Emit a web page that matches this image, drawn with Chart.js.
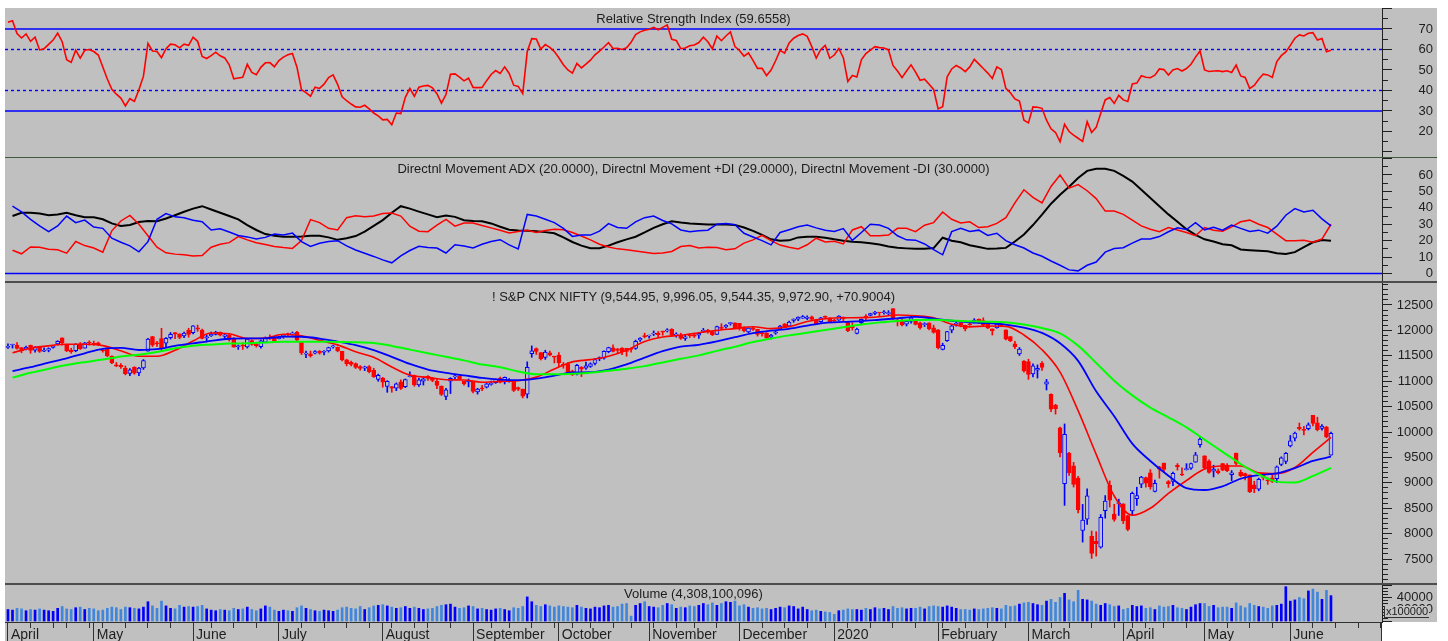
<!DOCTYPE html>
<html>
<head>
<meta charset="utf-8">
<title>S&amp;P CNX NIFTY</title>
<script src="https://cdn.jsdelivr.net/npm/chart.js@4.4.1/dist/chart.umd.min.js"></script>
<style>
  html,body{margin:0;padding:0;background:#fff;}
  #wrap{position:relative;width:1448px;height:641px;overflow:hidden;background:#fff;font-family:"Liberation Sans",Arial,sans-serif;}
  .bg{position:absolute;background:#c0c0c0;}
  canvas{position:absolute;left:5px;}
  .sep{position:absolute;left:5px;width:1432px;z-index:3;}
  .ttl{position:absolute;left:5px;width:1377px;text-align:center;font-size:13px;line-height:16px;color:#1c1c1c;white-space:nowrap;z-index:4;}
  .unit{position:absolute;font-size:11px;line-height:11px;color:#1c1c1c;z-index:4;background:#c4c4c4;border-left:1px solid #333;border-bottom:1px solid #333;padding:0 1px;}
</style>
</head>
<body>
<div id="wrap">
  <div class="bg" style="left:5px;top:8px;width:1432px;height:614px;"></div>
  <div class="bg" style="left:5px;top:622px;width:1377px;height:19px;"></div>
  <canvas id="cRsi" width="1428" height="149" style="top:8px;"></canvas>
  <canvas id="cDmi" width="1428" height="124" style="top:158px;"></canvas>
  <canvas id="cPrice" width="1428" height="301" style="top:283px;"></canvas>
  <canvas id="cVol" width="1428" height="56" style="top:585px;"></canvas>
  <div class="sep" style="top:157px;height:1px;background:#3f5a3f;"></div>
  <div class="sep" style="top:281px;height:2px;background:#4d4d4d;"></div>
  <div class="sep" style="top:583px;height:2px;background:#4d4d4d;"></div>
  <div style="position:absolute;left:1381px;top:622px;width:1px;height:19px;background:#303030;z-index:3;"></div>
  <div class="ttl" style="top:11px;">Relative Strength Index (59.6558)</div>
  <div class="ttl" style="top:161px;">Directnl Movement ADX (20.0000), Directnl Movement +DI (29.0000), Directnl Movement -DI (30.0000)</div>
  <div class="ttl" style="top:289px;">! S&amp;P CNX NIFTY (9,544.95, 9,996.05, 9,544.35, 9,972.90, +70.9004)</div>
  <div class="ttl" style="top:586px;">Volume (4,308,100,096)</div>
  <div class="unit" style="left:1384px;top:606px;">x100000</div>
</div>
<script>
// ---------- calendar of trading sessions (axis categories) ----------
const sessionCalendar = [
  ['2019-04', [1,2,3,4,5,8,9,10,11,12,15,16,18,22,23,24,25,26,30]],
  ['2019-05', [2,3,6,7,8,9,10,13,14,15,16,17,20,21,22,23,24,27,28,29,30,31]],
  ['2019-06', [3,4,6,7,10,11,12,13,14,17,18,19,20,21,24,25,26,27,28]],
  ['2019-07', [1,2,3,4,5,8,9,10,11,12,15,16,17,18,19,22,23,24,25,26,29,30,31]],
  ['2019-08', [1,2,5,6,7,8,9,13,14,16,19,20,21,22,23,26,27,28,29,30]],
  ['2019-09', [3,4,5,6,9,11,12,13,16,17,18,19,20,23,24,25,26,27,30]],
  ['2019-10', [1,3,4,7,9,10,11,14,15,16,17,18,22,23,24,25,27,29,30,31]],
  ['2019-11', [1,4,5,6,7,8,11,13,14,15,18,19,20,21,22,25,26,27,28,29]],
  ['2019-12', [2,3,4,5,6,9,10,11,12,13,16,17,18,19,20,23,24,26,27,30,31]],
  ['2020-01', [1,2,3,6,7,8,9,10,13,14,15,16,17,20,21,22,23,24,27,28,29,30,31]],
  ['2020-02', [1,3,4,5,6,7,10,11,12,13,14,17,18,19,20,24,25,26,27,28]],
  ['2020-03', [2,3,4,5,6,9,11,12,13,16,17,18,19,20,23,24,25,26,27,30,31]],
  ['2020-04', [1,3,7,8,9,13,15,16,17,20,21,22,23,24,27,28,29,30]],
  ['2020-05', [4,5,6,7,8,11,12,13,14,15,18,19,20,21,22,26,27,28,29]],
  ['2020-06', [1,2,3,4,5,8,9,10,11,12,15,16,17,18,19,22,23,24,25,26,29,30]]
];
const monthLabels = ['April','May','June','July','August','September','October','November','December','2020','February','March','April','May','June'];

// ---------- RSI (one value per session) ----------
const rsi14 = [
73.3,74,67.8,65.6,67.6,64,66,59.8,60.4,62.5,
64.6,68,63.8,55,53.7,59.7,55.8,59.6,60,59,
57.3,51.5,45.6,40.6,38.2,36.3,32.5,36,34.7,40.4,
47,63,59.3,59,56,60.4,62.6,62.3,60.8,62.6,
62,66,64,56.6,55.6,57,58.7,56.9,55.9,52.5,
45.7,46.1,46.4,52.8,48.8,47.7,51.3,53.5,53.6,51.6,
54.6,56.3,57.4,58,51.4,40.4,39,37.2,41.6,41,
43.1,46.3,47.6,43,36.9,35,33.4,32,31.8,32.8,
31,29,27.6,25.7,25.9,23.3,29,28.7,36.7,41,
37.2,41.6,42.2,42.5,41.3,38.4,33.8,38,47.9,48.1,
46.5,44.7,46,41.5,41.4,41.5,44.8,47.8,49.7,48.3,
51.5,48.3,42.6,42,38.5,59,65.3,65.1,60.2,62.4,
61,59,56,52.6,50,48.5,53.2,51,52.9,54.8,
57.4,59.2,61.2,63.3,60.5,60.6,60,60.8,63.5,67.3,
68.6,69.4,69.9,70.8,69.6,70.8,72,65,64.4,60.4,
60.7,61.8,62.2,63.4,66,63.8,60.3,66.6,64.3,66.6,
68.6,61.4,59.5,56.8,58.3,54.7,50.8,50.8,47.3,50,
54.5,59.6,58.2,63.2,65.5,66.8,67.6,66.4,61.5,55.8,
60,62,55.7,57.3,60.5,56,44.4,47.3,46.6,55,
58,59.7,61.4,60.9,60.7,59.8,52.2,49.5,46.3,49.5,
52.5,49,45,45.5,43,40.5,31,32.1,46.7,50.5,
52.2,51,49.2,51.5,55.2,53,50.7,48.5,45.9,51.5,
50.2,41,38.9,35.9,34.8,25.5,24.2,32,31.8,31.3,
25.5,21.3,19.5,15,23.5,20,18.2,16.7,15.2,24.8,
19.5,22,28.8,35.4,36.6,33.7,37.6,35.4,34.6,43.2,
43.6,47.2,46.5,46.2,47.5,50.5,50.2,47.5,50,50.7,
49.5,50.7,52.8,56.3,59.3,50,49.3,49.5,49.6,49.2,
49.6,48.8,52.4,47.1,46.4,41,42.5,45.5,48,47.6,
46.4,54.1,57,58.8,62,65.5,67.1,66.6,67.9,68.2,
64.6,65.4,58.9,59.66];
const rsiSolidLevels = [70, 30];
const rsiDashedLevels = [60, 40];

// ---------- Directional movement (read every 2nd session, from session 1) ----------
const diFirstSession = 1, diStep = 2;
const adx = [
35,37,37,36.5,35.5,36,37,35.5,34.3,34.2,
33,30.5,29,29.5,31.4,32,31.8,33.5,35.5,37.6,
39.5,41,39,37,35,33,29.5,26.5,24,23,
22.4,22.4,22.5,23,23,22,20.5,21.5,22.8,25.5,
29,32.5,37,41,39.5,37.7,36,34.3,35.3,34.5,
32.4,32,31.8,30.5,28.5,26.7,26.2,26,25.8,25.2,
24.5,22,19.2,17,15.4,15.4,17,19,20.8,22.4,
25,27.8,30,31.8,31,30.4,30.2,29.8,29.8,29.8,
29.6,28,26,23.5,20.8,20,20.2,22,22.4,22.4,
21.8,20.8,20,19.3,19,18.4,17.6,16.5,15.7,15.3,
15,15,15.5,21.8,20,19,17.2,16.2,15,15.2,
15.6,19.5,23.8,29.5,35.8,42.5,48,52.8,58.2,62.5,
63.8,63.8,62.5,59.5,56,51,46,41,36,31.5,
27,23.5,20.8,19.5,17.8,17.2,14.6,14.2,13.8,13.5,
12.3,11.9,13,16,19,20.4,20];
const plusDI = [
41,37.5,33,29,25.5,29,35,31,32.5,28.3,
27.5,21.5,19,16.8,13.2,19.4,33,36.5,34.5,34,
32.4,31.5,26.5,27.3,25.3,23.2,22.3,21,22,24,
23.5,24.6,19.4,16.5,18.4,19.5,20,16.8,14.3,12.3,
10.4,8.3,6.5,10.7,14,16.6,15.8,15.5,12.5,17.5,
16.8,15.5,17.8,19.5,20.6,17.4,15,36,35,33,
31,27.5,22.6,23.4,23.4,25.8,30.4,28,27.5,31.4,
34,35,32.3,30.2,26.5,25.5,26,26.4,30,30.4,
29.7,24.5,22.2,20,17.4,25,26.7,28.5,29.5,27.8,
26.3,25.6,27.4,20.2,25,30,29.5,27.5,23,20.5,
20.3,18,14.5,11.4,25.5,27.5,25.6,26.4,23.2,24.5,
20,17.5,15.5,12.5,10.5,7.6,5,2.2,1.6,5,
7,13,15.2,15.7,18.5,21,21,22.5,25.4,27.8,
26.8,31,26.6,28.2,26.4,29.5,27.5,25.6,26.4,24.6,
28.8,35.5,39.5,37.5,38.5,33.3,29];
const minusDI = [
14.2,12,16.2,16,14.8,14.4,12.4,19.5,17,15.5,
13,26,32,35.4,30,23,16,12.6,11.8,11.4,
10.6,11,16,17.8,18.8,22.5,20.5,18.7,17.6,16.5,
15.8,15.3,20,32.8,31,27.5,26.5,34,35.2,34.6,
35,36.6,36.8,35,28.8,25.8,25.5,29.5,33,28.8,
30.8,30.8,29.2,27.8,26.3,24.7,25.6,26.4,25,26.2,
27,26.6,25,22.8,20.5,17.8,16.2,15,14.4,13.7,
13,12.2,12.5,13.4,16.4,17,15.5,16,15.8,14.5,
15,18.5,20.5,23.2,20,17.3,16,15,17.5,21.5,
19.2,19.6,18,26.5,28.5,23,23,23.4,27.5,27.5,
25.5,29.4,31,37.5,33,30.8,31.5,28,28.5,30.5,
34,43,51,46.4,43,53,60,52,54.2,50.4,
45.6,38,38,36,32.5,29,27,25.4,28,26.5,
25,23,28,26.4,25.8,28.4,31.5,32.5,30,28,
24,20,20,20.2,19,21,30];

// ---------- moving averages (read every 4th session, from session 1) ----------
const maFirstSession = 1, maStep = 4;
const maFast = [
11560,11650,11696,11726,11726,11700,11600,11490,11490,11610,
11790,11950,11935,11840,11850,11923,11893,11805,11715,11580,
11470,11280,11120,11075,11030,11024,10980,10995,11010,11080,
11240,11380,11425,11490,11610,11780,11870,11905,11955,12000,
12035,12072,12035,12075,12175,12228,12248,12251,12270,12303,
12288,12250,12120,12070,12087,12080,11910,11620,11180,10420,
9560,8740,8360,8498,8790,9045,9270,9330,9330,9195,
9180,9300,9600,9896];
const maMid = [
11200,11275,11365,11450,11550,11638,11655,11614,11630,11695,
11745,11795,11836,11844,11844,11876,11875,11840,11780,11710,
11610,11480,11340,11230,11165,11115,11065,11033,11020,11050,
11110,11172,11178,11230,11330,11465,11590,11682,11716,11782,
11866,11945,11995,12030,12095,12150,12168,12183,12210,12238,
12265,12232,12190,12160,12142,12115,12055,11950,11746,11400,
10800,10310,9770,9430,9140,8895,8858,8930,9080,9150,
9187,9290,9430,9514];
const maSlow = [
11070,11165,11245,11318,11375,11425,11488,11520,11575,11648,
11700,11722,11742,11746,11764,11778,11778,11778,11774,11768,
11750,11695,11622,11550,11480,11410,11328,11275,11190,11135,
11135,11145,11165,11207,11247,11297,11370,11440,11508,11597,
11680,11770,11842,11902,11955,12006,12062,12115,12158,12185,
12206,12211,12195,12180,12172,12158,12115,12047,11943,11700,
11360,11010,10720,10480,10290,10090,9850,9610,9370,9165,
9023,9005,9135,9295];

// ---------- daily OHLC ----------
const open = [
11665,11712,11713,11660,11638,11705,11613,11686,11590,11613,
11667,11736,11856,11727,11612,11601,11735,11651,11770,11736,
11757,11605,11652,11495,11323,11314,11258,11152,11271,11164,
11262,11592,11877,11752,11840,11748,11855,11958,11932,11892,
11999,11953,12052,12007,11850,11889,11920,11968,11882,11911,
11838,11678,11707,11675,11802,11726,11681,11768,11861,11860,
11839,11890,11932,11928,11964,11770,11531,11537,11552,11592,
11570,11596,11675,11672,11586,11419,11371,11345,11289,11258,
11290,11216,11035,11060,10895,10894,10864,10990,10894,11087,
11112,10925,10999,11095,11063,10996,10906,10699,11001,11083,
11101,10996,10987,11002,10790,10860,10884,10936,10971,11058,
10986,10995,10994,10872,10845,10747,11542,11640,11565,11469,
11556,11491,11516,11322,11343,11197,11139,11280,11258,11289,
11350,11439,11452,11580,11657,11637,11650,11647,11628,11643,
11813,11890,11887,11928,11946,11974,11989,12023,11907,11913,
11843,11906,11916,11908,11980,12005,11969,11921,12067,12068,
12132,12147,12137,12067,11970,12053,12023,11939,11950,11868,
11945,12027,12131,12082,12197,12223,12239,12235,12269,12211,
12173,12274,12247,12202,12199,12261,12171,12079,11940,12153,
12272,12296,12333,12350,12348,12328,12430,12195,12195,12123,
12175,12198,12148,12114,12147,12052,12010,11627,11798,12006,
12120,12152,12102,12109,12151,12219,12191,12131,12029,12050,
12119,12012,11877,11738,11536,11398,11388,11143,11219,11350,
10942,10743,10531,10081,8982,9587,9332,9091,8063,8286,
7946,7849,7735,8451,8949,8385,8584,8585,8356,8446,
8688,8973,9104,9196,8832,9316,9390,9025,9026,9343,
9163,9259,9287,9408,9753,9533,9429,9227,9234,9377,
9348,9162,9584,9208,9182,9158,8961,8876,9170,9046,
9100,9083,9364,9422,9726,9880,10094,10055,10064,10326,
10182,10072,10094,9545];
const high = [
11738,11727,11761,11661,11689,11712,11683,11688,11657,11656,
11704,11797,11856,11727,11648,11740,11760,11763,11795,11789,
11770,11632,11657,11500,11367,11345,11300,11249,11286,11272,
11427,11845,11884,11784,12041,11860,11958,11958,11932,11968,
12042,12095,12104,12024,11907,11968,11983,11968,11931,11917,
11860,11711,11755,11843,11814,11754,11814,11871,11911,11884,
11884,11918,11945,11969,11982,11776,11593,11593,11605,11604,
11604,11670,11706,11673,11590,11433,11396,11360,11307,11296,
11308,11255,11139,11076,11010,10895,10965,11026,11044,11182,
11121,11060,11068,11113,11072,11035,10908,10862,11070,11141,
11129,10996,11043,11002,10860,10920,10957,11002,11043,11081,
11084,11052,10996,10885,10845,11382,11695,11655,11566,11610,
11593,11491,11562,11370,11366,11217,11330,11286,11374,11362,
11448,11478,11598,11670,11714,11645,11664,11647,11630,11809,
11860,11946,11907,11989,11978,11986,12034,12034,11954,11946,
11918,11936,11946,11957,12039,12019,11981,12084,12132,12114,
12158,12147,12137,12068,12054,12082,12023,11981,11953,11923,
11990,12099,12134,12182,12228,12268,12294,12287,12283,12221,
12258,12286,12247,12222,12290,12265,12180,12152,12044,12224,
12311,12338,12374,12350,12390,12389,12430,12226,12225,12189,
12272,12216,12163,12150,12150,12103,12018,11749,11981,12099,
12160,12154,12104,12173,12231,12226,12247,12160,12031,12134,
12152,12012,11884,11783,11663,11406,11433,11342,11321,11387,
11036,10751,10545,10099,10159,9602,9403,9127,8575,8883,
8051,8037,8376,8749,9038,8577,8678,8588,8357,8819,
8913,9128,9112,9261,9053,9324,9390,9044,9209,9378,
9296,9377,9390,9599,9889,9533,9450,9346,9277,9383,
9379,9241,9584,9252,9191,9158,9031,9094,9178,9095,
9161,9332,9511,9598,9932,9996,10177,10112,10178,10328,
10291,10148,10112,9996];
const low = [
11644,11652,11629,11559,11618,11549,11570,11567,11579,11578,
11648,11713,11710,11583,11550,11579,11625,11650,11710,11705,
11699,11571,11484,11347,11285,11251,11125,11109,11136,11109,
11231,11592,11682,11685,11592,11658,11829,11836,11835,11858,
11866,11932,11982,11832,11773,11880,11910,11890,11832,11789,
11670,11626,11625,11651,11707,11670,11651,11757,11821,11775,
11830,11846,11887,11905,11797,11523,11461,11475,11539,11532,
11516,11573,11651,11578,11399,11302,11301,11250,11216,11208,
11164,11075,10999,10882,10782,10782,10813,10836,10873,11084,
10901,10898,10924,11016,10990,10853,10718,10637,10756,11052,
11035,10922,10888,10771,10746,10816,10866,10922,10957,10964,
10945,10981,10796,10815,10671,10670,11471,11526,11417,11430,
11499,11359,11285,11255,11158,11113,11123,11090,11233,11272,
11319,11403,11436,11559,11576,11546,11520,11491,11571,11627,
11784,11852,11849,11899,11863,11904,11968,11888,11867,11822,
11802,11860,11861,11843,11960,11944,11898,11920,12009,12042,
12104,12034,12004,11969,11953,11998,11888,11888,11844,11833,
11923,12023,12052,12070,12160,12191,12236,12213,12202,12118,
12157,12228,12151,12165,12195,12191,11975,12005,11929,12126,
12213,12285,12308,12279,12317,12300,12216,12087,12089,12087,
12141,12107,12024,12075,12010,11946,11633,11615,11783,11953,
12084,12070,11990,12099,12144,12139,12091,12037,11908,12042,
12071,11813,11779,11639,11507,11176,11036,11083,11062,11212,
10827,10400,10352,9508,8556,9145,8916,8407,7833,8179,
7512,7557,7714,8304,8522,8244,8358,8198,8056,8360,
8555,8905,8913,8874,8821,9091,9219,8910,8946,9250,
9141,9250,9261,9404,9699,9266,9190,9116,9175,9238,
9219,9043,9351,9119,9056,8807,8806,8843,9056,8969,
9006,9004,9336,9376,9706,9824,10036,9944,10040,10121,
10022,10036,9885,9544];
const close = [
11669,11713,11644,11598,11666,11605,11672,11584,11597,11643,
11690,11787,11753,11594,11576,11726,11641,11755,11748,11725,
11712,11598,11498,11359,11302,11279,11148,11222,11157,11257,
11407,11828,11709,11738,11657,11844,11925,11928,11861,11946,
11923,12089,12022,11844,11871,11923,11966,11906,11914,11823,
11672,11691,11691,11831,11724,11699,11797,11847,11842,11789,
11865,11910,11916,11946,11811,11558,11555,11498,11582,11552,
11588,11662,11687,11597,11419,11346,11331,11271,11253,11284,
11189,11085,11118,10980,10997,10863,10948,10856,11033,11110,
10925,11029,11048,11053,11017,10918,10741,10829,11057,11106,
11046,10948,11023,10798,10845,10848,10947,10946,11036,10982,
11076,11004,10818,10841,10705,11274,11600,11588,11441,11571,
11512,11474,11359,11314,11175,11126,11313,11235,11305,11341,
11428,11464,11586,11662,11588,11604,11582,11584,11627,11786,
11844,11877,11890,11941,11917,11966,12012,11908,11913,11840,
11872,11895,11884,11940,11999,11968,11914,12073,12037,12100,
12151,12056,12049,11995,12044,12019,11922,11937,11857,11910,
11972,12087,12053,12165,12222,12260,12272,12263,12215,12127,
12246,12255,12168,12182,12282,12226,11993,12053,12025,12216,
12257,12330,12362,12343,12355,12352,12224,12170,12107,12180,
12248,12119,12055,12129,12036,11962,11662,11708,11979,12090,
12137,12098,12031,12108,12201,12174,12113,12046,11993,12125,
12080,11829,11798,11678,11633,11202,11132,11303,11251,11270,
10989,10451,10458,9590,9955,9197,8967,8469,8264,8745,
7610,7801,8318,8641,8660,8281,8598,8254,8084,8792,
8748,9112,8994,8925,8992,9267,9262,8981,9187,9313,
9154,9282,9380,9553,9860,9294,9206,9270,9199,9251,
9239,9197,9383,9142,9137,8823,8879,9067,9106,9039,
9029,9315,9490,9580,9826,9980,10061,10029,10142,10168,
10047,10116,9902,9973];

// ---------- volume (axis units, x100000) ----------
const volume = [
20000,19000,22000,21000,18000,20000,19000,21000,19000,18000,17000,22000,25000,21000,20000,23000,24000,20000,22000,
21000,18000,19000,22000,24000,23000,20000,24000,23000,22000,21000,24000,33000,26000,22000,34000,26000,22000,21000,27000,24000,25000,
24000,25000,27000,21000,19000,18000,20000,19000,18000,22000,20000,21000,24000,20000,18000,21000,26000,24000,19000,
17000,19000,18000,17000,23000,26000,22000,20000,18000,17000,19000,18000,17000,19000,23000,24000,22000,21000,25000,20000,23000,26000,27000,
28000,26000,24000,22000,23000,25000,22000,24000,22000,20000,21000,22000,25000,27000,28000,29000,24000,22000,23000,26000,
25000,21000,22000,20000,19000,21000,22000,20000,18000,23000,22000,25000,41000,33000,27000,25000,28000,26000,24000,
26000,25000,24000,23000,27000,24000,22000,21000,24000,23000,26000,27000,24000,25000,29000,30000,9000,27000,30000,33000,
25000,24000,23000,27000,30000,28000,22000,24000,23000,26000,25000,27000,30000,28000,31000,27000,30000,33000,32000,34000,
26000,28000,24000,22000,23000,21000,22000,20000,22000,24000,23000,26000,25000,21000,24000,20000,18000,19000,17000,16000,15000,
12000,18000,19000,21000,20000,20000,19000,22000,20000,23000,21000,22000,20000,25000,22000,23000,21000,22000,22000,24000,21000,25000,26000,
25000,24000,26000,24000,22000,20000,20000,19000,21000,20000,21000,22000,23000,22000,21000,27000,25000,26000,29000,31000,
32000,30000,28000,27000,34000,37000,32000,40000,47000,36000,33000,52000,37000,36000,34000,29000,27000,30000,28000,25000,26000,
20000,22000,27000,25000,26000,22000,23000,20000,26000,24000,25000,27000,23000,22000,20000,24000,28000,30000,
30000,25000,27000,23000,24000,24000,22000,31000,26000,23000,30000,27000,25000,24000,22000,26000,27000,29000,58000,
34000,36000,40000,38000,51000,54000,49000,37000,52000,43081];

// ---------- build ----------
const FONT = '"Liberation Sans", Arial, sans-serif';
const TXT = '#1e1e1e', AX = '#202020';
const UP = '#0000ff', DOWN = '#ff0000', BG = '#c0c0c0';
const X_MIN = -0.66, X_MAX = 304.3;
const AXIS_W = 51;

const sessions = [];
sessionCalendar.forEach(([ym, days]) => {
  const [y, m] = ym.split('-').map(Number);
  days.forEach(d => sessions.push(new Date(Date.UTC(y, m - 1, d))));
});
const axisTicks = [];
let mIdx = 0;
sessions.forEach((dt, i) => {
  const prev = sessions[i - 1];
  const newMonth = !prev || prev.getUTCMonth() !== dt.getUTCMonth();
  const newWeek = !prev || dt.getUTCDay() <= prev.getUTCDay() || (dt - prev) >= 7 * 864e5;
  if (newMonth) axisTicks.push({ value: i, month: monthLabels[mIdx++] });
  else if (newWeek) axisTicks.push({ value: i });
});

const N = close.length;
const up = i => close[i] >= open[i];
const daily = arr => arr.map((v, i) => ({ x: i, y: v }));
const sampled = (arr, first, step) => arr.map((v, k) => ({ x: first + k * step, y: v }));
const level = v => [{ x: X_MIN, y: v }, { x: X_MAX, y: v }];

function baseOptions(scales) {
  return {
    responsive: false, animation: false, events: [],
    layout: { padding: 0 },
    plugins: { legend: { display: false }, tooltip: { enabled: false }, title: { display: false } },
    scales
  };
}
function hiddenX() {
  return { type: 'linear', min: X_MIN, max: X_MAX, display: false, offset: false, grid: { offset: false } };
}
function rightAxis(min, max, step, majorEvery, labelMin, labelMax, labelEvery) {
  const isMajor = v => Math.abs(Math.round(v) % majorEvery) < 1e-6;
  const lblStep = labelEvery || majorEvery;
  return {
    type: 'linear', position: 'right', min, max,
    afterBuildTicks(scale) {
      const t = [];
      for (let v = Math.ceil(min / step) * step; v <= max + 1e-9; v += step) t.push({ value: Math.round(v * 1000) / 1000 });
      scale.ticks = t;
    },
    afterFit(scale) { scale.width = AXIS_W; scale.paddingTop = 0; scale.paddingBottom = 0; },
    ticks: {
      autoSkip: false, crossAlign: 'far', padding: 2, color: TXT,
      font: { family: FONT, size: 13 },
      callback: v => (Math.abs(Math.round(v) % lblStep) < 1e-6 && v >= labelMin && v <= labelMax) ? String(v) : ''
    },
    grid: {
      drawOnChartArea: false, drawTicks: true, tickLength: 10, tickColor: AX, tickWidth: 1,
      tickBorderDash: ctx => (ctx.tick && isMajor(ctx.tick.value)) ? [] : [5, 40]
    },
    border: { display: true, color: AX, width: 1 }
  };
}

Chart.defaults.font.family = FONT;

// RSI panel
new Chart(document.getElementById('cRsi'), {
  type: 'line',
  data: { datasets: [
    { data: daily(rsi14), borderColor: '#ff0000', borderWidth: 1.6, pointRadius: 0, order: 1 },
    ...rsiSolidLevels.map(v => ({ data: level(v), borderColor: '#0000ff', borderWidth: 1.6, pointRadius: 0, order: 2 })),
    ...rsiDashedLevels.map(v => ({ data: level(v), borderColor: '#0000ff', borderWidth: 1.4, borderDash: [3, 3], pointRadius: 0, order: 2 }))
  ]},
  options: baseOptions({ x: hiddenX(), y: rightAxis(7.56, 80.24, 5, 10, 20, 70) })
});

// DMI panel
new Chart(document.getElementById('cDmi'), {
  type: 'line',
  data: { datasets: [
    { data: sampled(plusDI, diFirstSession, diStep), borderColor: '#0000ff', borderWidth: 1.5, pointRadius: 0, order: 1 },
    { data: sampled(minusDI, diFirstSession, diStep), borderColor: '#ff0000', borderWidth: 1.5, pointRadius: 0, order: 1 },
    { data: sampled(adx, diFirstSession, diStep), borderColor: '#000000', borderWidth: 2, pointRadius: 0, order: 1 },
    { data: level(0), borderColor: '#0000ff', borderWidth: 1.6, pointRadius: 0, order: 2 }
  ]},
  options: baseOptions({ x: hiddenX(), y: rightAxis(-5.18, 70.35, 5, 10, 0, 60) })
});

// Price panel
const idx = Array.from({ length: N }, (_, i) => i);
new Chart(document.getElementById('cPrice'), {
  type: 'bar',
  data: { datasets: [
    { type: 'line', data: sampled(maSlow, maFirstSession, maStep), borderColor: '#00ff00', borderWidth: 2, pointRadius: 0, cubicInterpolationMode: 'monotone', order: 1 },
    { type: 'line', data: sampled(maMid, maFirstSession, maStep), borderColor: '#0000ff', borderWidth: 1.8, pointRadius: 0, cubicInterpolationMode: 'monotone', order: 1 },
    { type: 'line', data: sampled(maFast, maFirstSession, maStep), borderColor: '#ff0000', borderWidth: 1.6, pointRadius: 0, cubicInterpolationMode: 'monotone', order: 1 },
    { type: 'bar', data: idx.map(i => ({ x: i, y: [Math.min(open[i], close[i]), Math.max(open[i], close[i])] })),
      backgroundColor: c => up(c.dataIndex) ? BG : DOWN, borderColor: c => up(c.dataIndex) ? UP : DOWN,
      borderWidth: 1, borderSkipped: false, barThickness: 4, minBarLength: 1, grouped: false, order: 2 },
    { type: 'bar', data: idx.map(i => ({ x: i, y: [low[i], high[i]] })),
      backgroundColor: c => up(c.dataIndex) ? UP : DOWN, borderWidth: 0, barThickness: 1, grouped: false, order: 3 }
  ]},
  options: baseOptions({ x: hiddenX(), y: rightAxis(7008, 12933, 100, 500, 7500, 12500) })
});

// Volume panel with the time axis
new Chart(document.getElementById('cVol'), {
  type: 'bar',
  data: { datasets: [
    { data: daily(volume), backgroundColor: c => up(c.dataIndex) ? '#0000ff' : '#3f86dc', barThickness: 2, grouped: false }
  ]},
  options: baseOptions({
    x: {
      type: 'linear', position: 'bottom', min: X_MIN, max: X_MAX, offset: false,
      afterBuildTicks(scale) { scale.ticks = axisTicks.map(t => ({ value: t.value, month: t.month })); },
      afterFit(scale) { scale.height = 19; scale.paddingLeft = 0; scale.paddingRight = 0; },
      ticks: { autoSkip: false, maxRotation: 0, minRotation: 0, align: 'start', labelOffset: 3, padding: -14,
        color: TXT, font: { family: FONT, size: 14 },
        callback: (v, i, ticks) => ticks[i].month || '' },
      grid: { offset: false, drawOnChartArea: false, drawTicks: true, tickLength: 19, tickColor: '#303030',
        tickBorderDash: ctx => (ctx.tick && ctx.tick.month) ? [] : [5, 40] },
      border: { display: true, color: '#303030', width: 1 }
    },
    y: rightAxis(-833, 60833, 5000, 20000, 20000, 40000, 20000)
  })
});
</script>
</body>
</html>
